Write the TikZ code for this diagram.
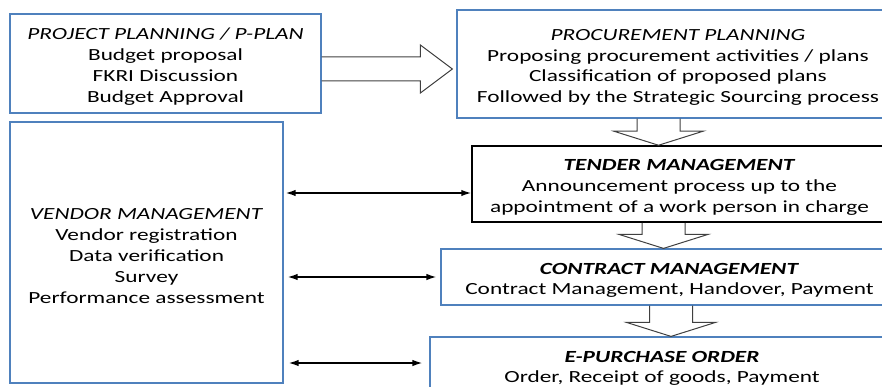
\documentclass[tikz,border=0pt]{standalone}
\usepackage{fontspec}
\setmainfont{Carlito}[FakeStretch=1.37]
\usepackage{tikz}
\usetikzlibrary{positioning,calc,arrows.meta}

\definecolor{boxblue}{RGB}{79,129,189}
\definecolor{arrowgray}{RGB}{64,64,64}

% first line of each box, with a little extra room above it
\newcommand{\plaintitle}[1]{\rule{0pt}{18pt}\textit{#1}}
\newcommand{\boldtitle}[1]{\rule{0pt}{18pt}\textbf{\textit{#1}}}

\tikzset{
  stage/.style={draw=boxblue, line width=1.2pt, align=center, inner sep=0pt,
    font=\fontsize{17}{20.8}\selectfont},
  link/.style={{Latex[length=10pt,width=6.5pt]}-{Latex[length=10pt,width=6.5pt]}, line width=1.5pt},
  % hollow block arrows between the stages
  fat down/.style={draw=arrowgray, line width=1pt, to path={let \p1=(\tikztostart), \p2=(\tikztotarget) in
    (\x1-21.5pt,\y1) -- (\x1-21.5pt,\y2+14pt) -- (\x1-44.5pt,\y2+14pt) -- (\x1,\y2)
    -- (\x1+44.5pt,\y2+14pt) -- (\x1+21.5pt,\y2+14pt) -- (\x1+21.5pt,\y1)}},
  fat right/.style={draw=arrowgray, line width=1pt, to path={let \p1=(\tikztostart), \p2=(\tikztotarget) in
    (\x1,\y1+12pt) -- (\x2-32pt,\y1+12pt) -- (\x2-32pt,\y1+24pt) -- (\x2,\y1)
    -- (\x2-32pt,\y1-24pt) -- (\x2-32pt,\y1-12pt) -- (\x1,\y1-12pt)}}
}

\begin{document}
\begin{tikzpicture}
    \clip (0,0) rectangle (882pt,-387pt);

    \node (plan) [stage, minimum width=311pt, minimum height=99pt] at (165.5pt,-63.5pt)
        {\plaintitle{PROJECT PLANNING / P-PLAN}\\Budget proposal\\FKRI Discussion\\Budget Approval};
    \node (proc) [stage, minimum width=442pt, minimum height=108pt, right of=plan, node distance=512.5pt, yshift=-0.5pt]
        {\plaintitle{PROCUREMENT PLANNING}\\Proposing procurement activities / plans\\Classification of proposed plans\\Followed by the Strategic Sourcing process};
    \node (vendor) [stage, minimum width=273pt, minimum height=261pt, below of=plan, node distance=189pt, xshift=-19pt]
        {\plaintitle{VENDOR MANAGEMENT}\\Vendor registration\\Data verification\\Survey\\Performance assessment};

    \node (tender) [stage, draw=black, line width=1.5pt, minimum width=415pt, minimum height=76pt, below of=proc, node distance=120pt, xshift=1.5pt]
        {\boldtitle{TENDER MANAGEMENT}\\Announcement process up to the\\appointment of a work person in charge};
    \node (contract) [stage, minimum width=457pt, minimum height=56pt, below of=tender, node distance=93pt, xshift=-10pt]
        {\boldtitle{CONTRACT MANAGEMENT}\\Contract Management, Handover, Payment};
    \node (epo) [stage, minimum width=464pt, minimum height=56pt, below of=contract, node distance=88pt, xshift=-7.5pt]
        {\boldtitle{E-PURCHASE ORDER}\\Order, Receipt of goods, Payment};

    \draw[fat right] ([yshift=-5.5pt]plan.east) to ([xshift=-4pt]proc.west);
    \draw[fat down] ([xshift=-19.5pt]proc.south) to (tender.north);
    \draw[fat down] ([xshift=-16pt]tender.south) to (contract.north);
    \draw[fat down] ([xshift=1.5pt]contract.south) to (epo.north);

    \coordinate (t1) at ([yshift=-9pt]tender.west);
    \coordinate (e1) at ([yshift=2pt]epo.west);
    \draw[link, shorten <=2pt] (vendor.east |- t1) -- (t1);
    \draw[link, shorten <=4pt, shorten >=4pt] (vendor.east |- contract.west) -- (contract.west);
    \draw[link, shorten <=5pt, shorten >=7pt] (vendor.east |- e1) -- (e1);
\end{tikzpicture}
\end{document}
